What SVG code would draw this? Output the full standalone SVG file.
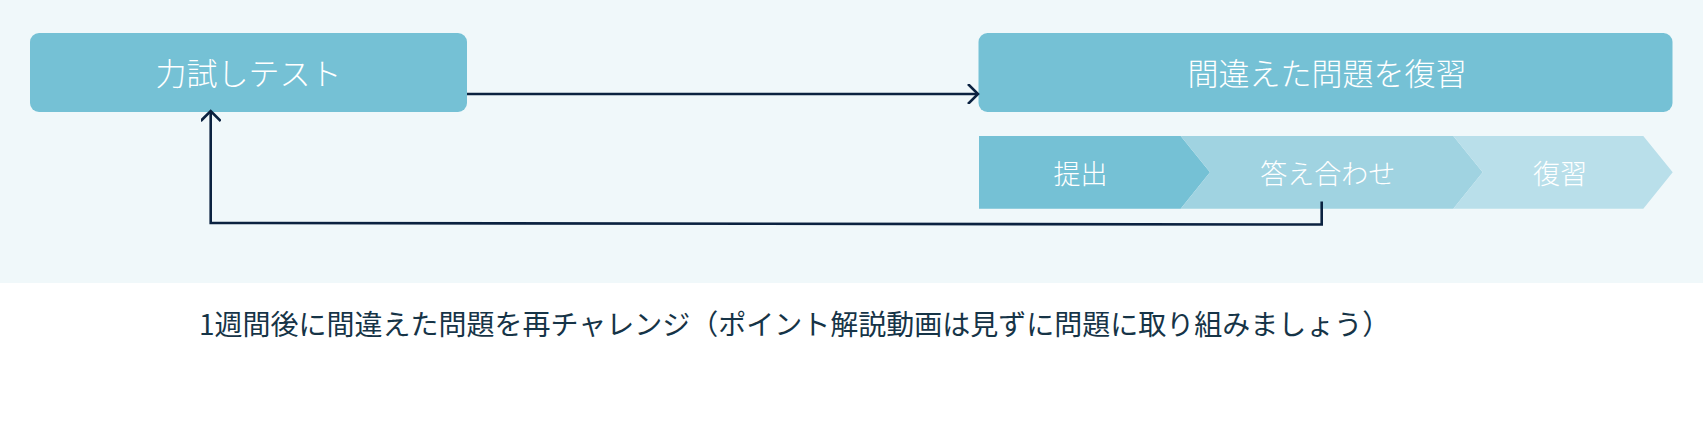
<svg xmlns="http://www.w3.org/2000/svg" width="1703" height="439" viewBox="0 0 1703 439">
  <defs>
    <style>
      .node { fill: #75c1d5; }
      .lbl { font-family: "Noto Sans CJK JP", "Noto Sans", sans-serif; font-weight: 300; fill: #ffffff; text-anchor: middle; }
      .big { font-size: 31px; }
      .step { font-size: 27px; }
      .conn { fill: none; stroke: #0b2240; stroke-width: 2.6; stroke-linejoin: miter; }
      .note { font-family: "Noto Sans CJK JP", "Noto Sans", sans-serif; font-weight: 400; font-size: 28px; fill: #163447; }
    </style>
    <marker id="arr" viewBox="0 0 20 20" refX="14" refY="10" markerWidth="20" markerHeight="20" markerUnits="userSpaceOnUse" orient="auto">
      <path d="M4,0 L14,10 L4,20" fill="none" stroke="#0b2240" stroke-width="2.6"/>
    </marker>
  </defs>
  <rect x="0" y="0" width="1703" height="439" fill="#ffffff"/>
  <rect x="0" y="0" width="1703" height="283" fill="#f0f8fa"/>

  <g id="node-test">
    <rect class="node" x="30" y="33" width="437" height="79" rx="9"/>
    <text class="lbl big" x="248.5" y="84.5">力試しテスト</text>
  </g>

  <g id="node-review">
    <rect class="node" x="978.5" y="33" width="694" height="79" rx="9"/>
    <text class="lbl big" x="1327" y="84.5">間違えた問題を復習</text>
  </g>

  <g id="step-submit">
    <polygon points="979,136 1180.7,136 1210,172.3 1180.7,208.7 979,208.7" fill="#75c1d5"/>
    <text class="lbl step" x="1080.5" y="183.5">提出</text>
  </g>
  <g id="step-check">
    <polygon points="1180.7,136 1453.3,136 1482.7,172.3 1453.3,208.7 1180.7,208.7 1210,172.3" fill="#a0d3e1"/>
    <text class="lbl step" x="1327.7" y="183.5">答え合わせ</text>
  </g>
  <g id="step-review">
    <polygon points="1453.3,136 1643.3,136 1672.7,172.3 1643.3,208.7 1453.3,208.7 1482.7,172.3" fill="#b9dfea"/>
    <text class="lbl step" x="1560" y="183.5">復習</text>
  </g>

  <g id="connectors">
    <path class="conn" d="M467,94 H978" marker-end="url(#arr)"/>
    <path class="conn" d="M1321.7,201.5 V224.5 L210.7,223 V111" marker-end="url(#arr)"/>
  </g>

  <text class="note" x="199" y="334.5">1週間後に間違えた問題を再チャレンジ（ポイント解説動画は見ずに問題に取り組みましょう）</text>
</svg>
